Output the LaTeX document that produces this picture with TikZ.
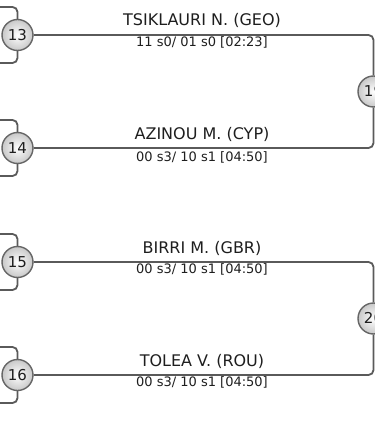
\documentclass[tikz,border=0pt]{standalone}
\usepackage{fontspec}
\setmainfont{DejaVu Sans}
\definecolor{linkgray}{HTML}{5A5A5A}
\definecolor{ringgray}{HTML}{666666}
\definecolor{ballgray}{HTML}{C8C8C8}
\definecolor{textdark}{HTML}{1E1E1E}
\begin{document}
\begin{tikzpicture}[x=1pt,y=-1pt,
  seed/.style={circle, draw=ringgray, line width=1.4pt, inner sep=0pt, minimum size=31pt,
    inner color=white, outer color=ballgray, text=textdark, font=\fontsize{15}{18}\selectfont},
  link/.style={draw=linkgray, line width=1.8pt, rounded corners=5pt},
  athlete/.style={anchor=base, text=textdark, font=\fontsize{16}{19}\selectfont},
  score/.style={anchor=base, text=textdark, font=\fontsize{13}{15}\selectfont}]
  \useasboundingbox (0,0) rectangle (374,427);

  % Pool A
  \node[seed] (m13) at (17.5,35) {13};
  \node[seed] (m14) at (17.5,148) {14};
  \node[seed] (w19) at (373.5,91.5) {19};
  \coordinate (c13u) at (-3,7);
  \coordinate (c13d) at (-3,63);
  \coordinate (c14u) at (-3,120);
  \coordinate (c14d) at (-3,176);
  \draw[link] (m13.north) |- (c13u);
  \draw[link] (m13.south) |- (c13d);
  \draw[link] (m14.north) |- (c14u);
  \draw[link] (m14.south) |- (c14d);
  \draw[link] (m13.east) -| (w19.north);
  \draw[link] (m14.east) -| (w19.south);
  \node[athlete] (n13) at (202,25.5) {TSIKLAURI N. (GEO)};
  \node[score] (s13) at (202,47) {11 s0/ 01 s0 [02:23]};
  \node[athlete] (n14) at (202,139.5) {AZINOU M. (CYP)};
  \node[score] (s14) at (202,161.5) {00 s3/ 10 s1 [04:50]};

  % Pool B
  \node[seed] (m15) at (17.5,262) {15};
  \node[seed] (m16) at (17.5,375) {16};
  \node[seed] (w20) at (373.5,318.5) {20};
  \coordinate (c15u) at (-3,234);
  \coordinate (c15d) at (-3,290);
  \coordinate (c16u) at (-3,347);
  \coordinate (c16d) at (-3,403);
  \draw[link] (m15.north) |- (c15u);
  \draw[link] (m15.south) |- (c15d);
  \draw[link] (m16.north) |- (c16u);
  \draw[link] (m16.south) |- (c16d);
  \draw[link] (m15.east) -| (w20.north);
  \draw[link] (m16.east) -| (w20.south);
  \node[athlete] (n15) at (202,253) {BIRRI M. (GBR)};
  \node[score] (s15) at (202,273) {00 s3/ 10 s1 [04:50]};
  \node[athlete] (n16) at (202,366.5) {TOLEA V. (ROU)};
  \node[score] (s16) at (202,386.5) {00 s3/ 10 s1 [04:50]};
\end{tikzpicture}
\end{document}
